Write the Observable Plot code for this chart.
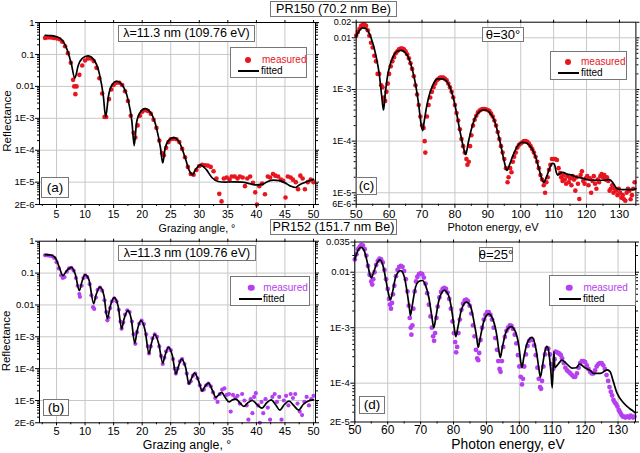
<!DOCTYPE html>
<html><head><meta charset="utf-8">
<script src="https://cdn.jsdelivr.net/npm/d3@7"></script>
<script src="https://cdn.jsdelivr.net/npm/@observablehq/plot@0.6"></script>
<style>
body{margin:0;background:#fff;font-family:"Liberation Sans",Arial,sans-serif;}
#wrap{position:relative;width:640px;height:453px;overflow:hidden;background:#fff;}
.panel{position:absolute;}
.panel svg{background:transparent !important;overflow:visible;}
.box{position:absolute;border:1px solid #777;background:#fff;box-sizing:border-box;white-space:nowrap;color:#000;line-height:1;display:flex;align-items:center;justify-content:center;}
.lbl{position:absolute;white-space:nowrap;color:#000;transform:translate(-50%,-50%);line-height:1;}
.leg{position:absolute;border:1px solid #777;background:#fff;box-sizing:border-box;}
.leg span{position:absolute;font-size:10px;line-height:1;white-space:nowrap;transform:translateY(-50%);}
.leg i{position:absolute;border-radius:50%;transform:translate(-50%,-50%);}
.leg b{position:absolute;height:2px;background:#000;transform:translateY(-50%);}
</style></head>
<body><div id="wrap"></div>
<script>
// ---------- data ----------
const abXTicks = [5,10,15,20,25,30,35,40,45,50];
const abXMinor = [2.5,7.5,12.5,17.5,22.5,27.5,32.5,37.5,42.5,47.5];
const cdXTicks = [50,60,70,80,90,100,110,120,130];
const cdXMinor = [55,65,75,85,95,105,115,125,135];
const abYTicks = [1,0.1,0.01,1e-3,1e-4,1e-5,2e-6];
const abYTickLabels = ["1","0.1","0.01","1E-3","1E-4","1E-5","2E-6"];
const cYTicks = [0.02,0.01,1e-3,1e-4,1e-5,6e-6];
const cYTickLabels = ["0.02","0.01","1E-3","1E-4","1E-5","6E-6"];
const dYTicks = [0.035,0.01,1e-3,1e-4,2e-5];
const dYTickLabels = ["0.035","0.01","1E-3","1E-4","2E-5"];

// (a) PR150, angle scan
const aFitted = [[3,.40],[4,.39],[5,.36],[6,.28],[7,.12],[7.6,.05],[8.2,.018],[8.8,.045],[9.5,.075],[10.5,.09],[11.5,.07],[12.5,.025],[13.2,.005],[13.6,.0011],[14.1,.005],[14.7,.011],[15.5,.0145],[16.5,.011],[17.5,.004],[18.2,.0008],[18.6,.00014],[19.0,.0007],[19.6,.0015],[20.5,.002],[21.5,.0015],[22.5,.0005],[23.2,.00012],[23.6,.00004],[24.0,.00011],[24.6,.0002],[25.5,.00025],[26.5,.00018],[27.5,.00006],[28.3,.000022],[28.8,.000017],[29.3,.000024],[30.2,.000034],[31.2,.000025],[32.2,.000014],[33.3,.0000105],[34.5,.00001],[36,.0000102],[37.5,.00001],[39,.0000088],[40,.0000082],[41,.0000085],[42,.0000105],[43,.0000115],[44,.0000112],[45,.0000095],[46,.0000075],[46.8,.0000068],[47.5,.0000082],[48.5,.0000098],[49.5,.0000115],[50,.0000122]];
const aMeasured = [[3,.33],[3.5,.34],[4,.34],[4.5,.33],[5,.32],[5.5,.30],[6,.25],[6.5,.18],[7,.11],[7.5,.055],[7.9,.016],[8.1,.010],[8.3,.0057],[8.5,.010],[9,.023],[9.5,.045],[10,.065],[10.5,.075],[11,.075],[11.5,.062],[12,.038],[12.5,.018],[13,.006],[13.4,.0011],[13.7,.0011],[14.2,.004],[14.6,.008],[15,.011],[15.5,.013],[16,.013],[16.5,.011],[17,.007],[17.5,.0035],[18,.0012],[18.5,.00035],[18.8,.00025],[19.2,.0006],[19.6,.0012],[20,.0016],[20.5,.0018],[21,.0017],[21.5,.0014],[22,.0009],[22.5,.0005],[23,.0002],[23.5,.00008],[23.8,.00007],[24.2,.00012],[24.6,.00018],[25,.00022],[25.5,.00023],[26,.00022],[26.5,.00018],[27,.00011],[27.5,.00006],[28,.00003],[28.5,.000018],[29,.000017],[29.5,.000024],[30,.000032],[30.5,.000035],[31,.000034],[31.5,.000033],[32,.00003],[32.5,.000022],[33,.000013],[33.5,.0000043],[33.9,.0000025],[34.3,.000013],[34.8,.000014],[35.3,.000012],[35.7,.000015],[36.2,.000015],[36.7,.000013],[37.1,.000015],[37.6,.000014],[38,.0000075],[38.4,.000013],[38.9,.000015],[39.4,.0000095],[39.8,.0000048],[40.1,.000002],[40.5,.0000075],[41,.000009],[41.5,.0000042],[42,.000015],[42.4,.000014],[42.9,.000018],[43.3,.000016],[43.8,.000015],[44.3,.000012],[44.7,.000011],[45.1,.0000033],[45.5,.000015],[46,.000014],[46.4,.000012],[46.9,.00001],[47.3,.000006],[47.7,.000016],[48.1,.000013],[48.5,.000006],[49,.00001],[49.5,.000012],[50,.00001]];

// (b) PR152, angle scan
const bFitted = [[3,.38],[4,.37],[4.8,.30],[5.5,.15],[6.1,.083],[6.8,.12],[7.6,.15],[8.3,.09],[9,.028],[9.4,.05],[10,.09],[10.7,.06],[11.5,.011],[11.9,.02],[12.6,.036],[13.3,.02],[13.9,.0037],[14.4,.009],[15.1,.017],[15.8,.009],[16.4,.0018],[16.8,.0035],[17.5,.0066],[18.1,.0035],[18.7,.00063],[19.1,.0015],[19.8,.0032],[20.5,.0016],[21.2,.0003],[21.6,.0006],[22.2,.0012],[22.9,.0006],[23.6,.00015],[24,.00026],[24.6,.00047],[25.3,.00025],[25.9,.000069],[26.3,.00011],[26.9,.0002],[27.6,.00011],[28.2,.000033],[28.6,.000048],[29.2,.000072],[29.9,.00004],[30.5,.00002],[30.9,.000026],[31.6,.000035],[32.3,.000021],[32.9,.0000126],[33.4,.000015],[33.9,.000018],[34.6,.000012],[35.2,.000009],[35.8,.0000105],[36.4,.000011],[37.1,.0000085],[37.8,.0000065],[38.5,.0000085],[39.3,.00001],[40.1,.0000075],[41,.0000058],[41.8,.0000085],[42.6,.0000105],[43.4,.0000072],[44.1,.000005],[44.9,.0000075],[45.7,.0000095],[46.6,.0000068],[47.4,.000005],[48.2,.0000075],[49,.0000095],[50,.0000105]];
const bMeasured = [[3,.36],[3.4,.36],[3.8,.35],[4.2,.34],[4.6,.30],[5,.22],[5.4,.14],[5.8,.085],[6.1,.07],[6.4,.075],[6.8,.11],[7.2,.14],[7.6,.145],[8,.12],[8.4,.07],[8.7,.04],[9,.022],[9.1,.018],[9.4,.04],[9.7,.07],[10,.085],[10.4,.075],[10.8,.045],[11.1,.02],[11.4,.0085],[11.6,.0075],[11.9,.017],[12.2,.03],[12.6,.035],[13,.028],[13.4,.014],[13.7,.006],[13.9,.0033],[14.1,.004],[14.4,.008],[14.7,.013],[15.1,.016],[15.5,.013],[15.9,.007],[16.2,.003],[16.4,.0018],[16.7,.0028],[17,.005],[17.4,.0068],[17.8,.006],[18.2,.003],[18.5,.0012],[18.8,.0006],[19.1,.0014],[19.5,.0026],[19.9,.0032],[20.3,.0025],[20.7,.0012],[21,.0005],[21.2,.0003],[21.5,.0005],[21.8,.0009],[22.2,.0012],[22.6,.001],[23,.0005],[23.3,.00025],[23.6,.00014],[23.9,.00022],[24.2,.00035],[24.6,.00045],[25,.00038],[25.4,.0002],[25.7,.0001],[25.9,.00007],[26.2,.0001],[26.6,.00017],[27,.0002],[27.4,.00014],[27.8,.00007],[28.2,.000035],[28.5,.00004],[28.9,.00006],[29.3,.00007],[29.7,.00005],[30.1,.00003],[30.5,.000021],[30.8,.000022],[31.2,.00003],[31.6,.000034],[32,.000028],[32.4,.000018],[32.8,.000012],[33.2,.000009],[33.6,.000016],[34,.000022],[34.4,.000024],[34.8,.000015],[35.2,.000016],[35.5,.0000045],[35.9,.000015],[36.3,.000012],[36.7,.000014],[37.1,.000008],[37.5,.000016],[37.9,.00001],[38.3,.000007],[38.6,.0000025],[39,.000011],[39.3,.000004],[39.6,.000013],[39.9,.000017],[40.3,.000007],[40.6,.000002],[40.9,.000009],[41.2,.000004],[41.6,.000011],[42,.000006],[42.4,.0000025],[42.8,.000013],[43.2,.000016],[43.6,.000009],[44,.000013],[44.4,.0000025],[44.8,.00001],[45.2,.000014],[45.6,.000007],[46,.000016],[46.4,.000012],[46.8,.000016],[47.2,.000008],[47.6,.0000045],[48,.0000035],[48.4,.000009],[48.8,.000013],[49.2,.000007],[49.6,.000011],[50,.000014]];

// (c) PR150, energy scan
const cFitted = [[50,.0105],[51,.014],[52,.0155],[53,.015],[54,.012],[55,.008],[56,.0045],[57,.002],[57.8,.0007],[58.3,.0004],[58.8,.0008],[59.5,.0018],[60.5,.0033],[61.5,.0047],[62.5,.0055],[63.6,.0057],[64.8,.0052],[66,.004],[67,.0025],[68,.0013],[69,.0005],[69.7,.00022],[70.2,.00016],[70.7,.00025],[71.5,.0005],[72.5,.0009],[73.5,.0013],[74.8,.0016],[76,.0016],[77.2,.0015],[78.5,.0011],[79.5,.0007],[80.5,.00035],[81.5,.00016],[82.5,.00008],[83.3,.000055],[84,.00009],[85,.00017],[86,.00027],[87,.00035],[88.5,.0004],[89.5,.0004],[90.5,.00036],[92,.00025],[93,.00015],[94,.00008],[95,.00004],[95.8,.000027],[96.6,.000035],[97.5,.00005],[98.5,.00007],[99.5,.000088],[100.5,.000095],[101.5,.000093],[102.5,.000085],[103.5,.00007],[104.5,.00005],[105.5,.00003],[106.5,.000018],[107,.000016],[107.8,.00002],[108.8,.00003],[109.6,.000037],[110.2,.000036],[110.8,.000025],[111.2,.000022],[112,.000024],[112.8,.000025],[114,.000023],[115.5,.000022],[117.2,.00002],[119,.000019],[121.2,.0000175],[123,.0000175],[125.2,.0000175],[127,.000018],[128.2,.000015],[129.3,.000012],[131,.0000115],[133.9,.0000115],[135,.000012]];
const cMeasured = [[50,.011],[50.5,.013],[51,.015],[51.5,.017],[52,.018],[52.5,.018],[53,.017],[53.5,.014],[54,.011],[54.5,.008],[55,.0065],[55.5,.0045],[56,.0035],[56.5,.002],[57,.002],[57.6,.0012],[58,.0011],[58.4,.0007],[58.8,.0006],[59.2,.0009],[59.6,.0013],[60,.002],[60.5,.0028],[61,.0035],[61.5,.0042],[62,.005],[62.5,.0055],[63,.006],[63.5,.0062],[64,.0062],[64.5,.006],[65,.0055],[65.5,.0048],[66,.004],[66.5,.0032],[67,.0025],[67.5,.0018],[68,.0012],[68.5,.0008],[69,.0005],[69.5,.0003],[70,.0002],[70.5,.00018],[70.8,.0001],[71,.00006],[71.5,.0003],[72,.0005],[72.5,.0007],[73,.0009],[73.5,.0011],[74,.0013],[74.5,.0015],[75,.0016],[75.5,.0017],[76,.0017],[76.5,.0017],[77,.0016],[77.5,.0015],[78,.0013],[78.5,.0011],[79,.0009],[79.5,.0007],[80,.0005],[80.5,.00035],[81,.00025],[81.5,.00017],[82,.00011],[82.5,.00008],[83,.00006],[83.5,.000045],[83.8,.000035],[84.2,.00004],[84.6,.00008],[85,.00013],[85.5,.0002],[86,.00026],[86.5,.00031],[87,.00036],[87.5,.00039],[88,.00041],[88.5,.00042],[89,.00042],[89.5,.00041],[90,.0004],[90.5,.00038],[91,.00034],[91.5,.0003],[92,.00025],[92.5,.0002],[93,.00015],[93.5,.00011],[94,.00008],[94.5,.00006],[95,.000045],[95.5,.00003],[96,.000016],[96.3,.00002],[96.8,.00003],[97.2,.000025],[97.6,.00004],[98,.00005],[98.5,.00006],[99,.000075],[99.5,.000085],[100,.00009],[100.5,.000095],[101,.0001],[101.5,.0001],[102,.000097],[102.5,.00009],[103,.00008],[103.5,.00007],[104,.00006],[104.5,.00005],[105,.00004],[105.5,.00003],[106,.000022],[106.5,.000018],[107,.000014],[107.4,.00001],[107.8,.000016],[108.2,.00002],[108.6,.000028],[109,.000035],[109.5,.000045],[110,.000045],[110.5,.000045],[111,.000043],[111.5,.00003],[112,.000024],[112.3,.00002],[112.7,.000017],[113,.000022],[113.4,.000018],[113.8,.000015],[114.2,.000021],[114.6,.000016],[115,.000019],[115.4,.000014],[115.8,.000021],[116.2,.000018],[116.6,.000011],[117,.00002],[117.4,.000015],[117.8,.0000076],[118.2,.000022],[118.6,.000026],[119,.000017],[119.4,.000015],[119.8,.000019],[120.2,.000021],[120.6,.000014],[121,.000019],[121.4,.00001],[121.8,.000017],[122.2,.000021],[122.6,.000015],[123,.000012],[123.4,.000018],[123.8,.000016],[124.2,.000021],[124.6,.000023],[125,.00002],[125.4,.000022],[125.8,.000018],[126.2,.00002],[126.6,.000017],[127,.000011],[127.4,.000012],[127.8,.000014],[128.2,.00001],[128.6,.000012],[129,.000011],[129.4,.000009],[129.8,.000012],[130.2,.00001],[130.6,.000008],[131,.000009],[131.4,.0000075],[131.8,.000007],[132.2,.00001],[132.6,.000012],[133,.000011],[133.4,.0000075],[133.8,.000009],[134.2,.000012],[134.6,.000016]];

// (d) PR152, energy scan
const dFitted = [[50,.017],[51,.025],[51.9,.028],[52.8,.025],[53.8,.015],[54.5,.0095],[55,.0079],[55.6,.0095],[56.6,.014],[57.6,.0167],[58.6,.013],[59.6,.0065],[60.2,.0042],[60.8,.0032],[61.4,.0042],[62.5,.0085],[63.9,.0107],[65,.0085],[66,.004],[66.5,.0025],[66.9,.00166],[67.4,.0024],[68.5,.0055],[69.4,.0068],[70.5,.0071],[71.5,.0058],[72.5,.0035],[73.4,.0016],[74,.001],[74.6,.0015],[75.6,.0032],[77.2,.0047],[78.5,.0038],[79.5,.002],[80.2,.001],[80.7,.00069],[81.3,.001],[82.4,.0021],[83.9,.0029],[85.2,.0024],[86.3,.0012],[87,.0007],[87.5,.00044],[88.1,.00065],[89.2,.0013],[90.7,.00178],[92,.0014],[93.2,.0007],[93.8,.00038],[94.2,.00029],[94.8,.00043],[96,.00085],[97.5,.00105],[98.8,.00085],[99.9,.00045],[100.4,.00025],[100.8,.00019],[101.3,.00028],[102.5,.00055],[103.9,.00067],[105.1,.0004],[105.9,.00019],[106.4,.000128],[107,.0002],[107.8,.00038],[108.4,.00046],[109,.00035],[109.6,.00016],[110,.000082],[110.5,.00037],[110.8,.00019],[111.5,.00021],[113,.00026],[114.5,.00022],[116,.000187],[117.3,.00019],[118.3,.00022],[120.1,.000187],[121.5,.00017],[122.6,.00015],[124.6,.00015],[126.7,.000174],[127.6,.00016],[128.5,.00011],[129.7,.000066],[131.7,.000044],[133.5,.000035],[134.7,.000031],[135.3,.000029]];
const dMeasured = [[50,.017],[50.5,.021],[51,.026],[51.5,.029],[52,.031],[52.5,.03],[53,.026],[53.5,.02],[54,.013],[54.5,.009],[55,.0068],[55.3,.006],[55.6,.0075],[56,.01],[56.5,.0135],[57,.016],[57.5,.0175],[58,.017],[58.5,.015],[59,.011],[59.5,.0075],[60,.005],[60.4,.0033],[60.7,.0026],[61,.0022],[61.3,.0028],[61.6,.004],[62,.0057],[62.5,.0085],[63,.011],[63.5,.0125],[64,.013],[64.5,.0125],[65,.0105],[65.5,.0075],[66,.0045],[66.4,.0025],[66.7,.0015],[67,.001],[67.2,.00075],[67.5,.0011],[67.8,.0022],[68.2,.0045],[68.6,.0068],[69,.0082],[69.5,.0092],[70,.0095],[70.5,.0092],[71,.008],[71.5,.0062],[72,.0042],[72.5,.0026],[73,.0016],[73.4,.001],[73.8,.0007],[74.1,.00058],[74.4,.0008],[74.8,.0015],[75.2,.0024],[75.7,.0035],[76.2,.0044],[76.7,.005],[77.2,.0052],[77.7,.005],[78.2,.0043],[78.7,.0033],[79.2,.0022],[79.7,.0013],[80.1,.0008],[80.5,.00055],[80.8,.00036],[81.1,.00045],[81.5,.0008],[81.9,.0014],[82.4,.0021],[82.9,.0027],[83.4,.0031],[83.9,.0032],[84.4,.003],[84.9,.0025],[85.4,.0018],[85.9,.0011],[86.4,.0007],[86.8,.0004],[87.2,.00028],[87.5,.00026],[87.8,.00035],[88.2,.0006],[88.7,.001],[89.2,.0014],[89.7,.0017],[90.2,.0019],[90.7,.0019],[91.2,.0017],[91.7,.0014],[92.2,.001],[92.7,.00065],[93.2,.0004],[93.6,.00025],[94,.00018],[94.3,.00016],[94.7,.00025],[95.1,.00045],[95.6,.00068],[96.1,.00088],[96.6,.001],[97.1,.0011],[97.6,.00108],[98.1,.00095],[98.6,.00075],[99.1,.00052],[99.6,.00032],[100,.0002],[100.4,.00013],[100.8,.000095],[101.1,.00012],[101.5,.0002],[102,.00033],[102.5,.00047],[103,.00058],[103.5,.00062],[104,.0006],[104.5,.00048],[105,.00032],[105.5,.00019],[105.9,.00012],[106.3,.000085],[106.6,.000079],[106.9,.00011],[107.3,.0002],[107.8,.00033],[108.3,.00042],[108.8,.00042],[109.3,.00033],[109.8,.00022],[110.3,.00018],[110.7,.00027],[111,.00037],[111.4,.00036],[111.8,.00035],[112.2,.00034],[112.6,.00032],[113,.00028],[113.5,.00023],[114,.00019],[114.5,.00017],[115,.00016],[115.5,.00015],[116,.00014],[116.5,.00013],[117,.00013],[117.5,.00015],[118,.00019],[118.5,.00023],[119,.00025],[119.5,.00025],[120,.00024],[120.5,.00021],[121,.00018],[121.5,.00016],[122,.00015],[122.5,.00015],[123,.00017],[123.5,.0002],[124,.00022],[124.5,.00023],[125,.00023],[125.5,.00021],[126,.00018],[126.5,.00014],[127,.00011],[127.4,.000085],[127.8,.00007],[128.2,.00006],[128.6,.00005],[129,.000045],[129.4,.000042],[129.8,.000038],[130.2,.000033],[130.6,.00003],[131,.000027],[131.4,.000025],[131.8,.000025],[132.2,.000024],[132.6,.000025],[133,.000025],[133.4,.000024],[133.8,.000026],[134.2,.000025],[134.6,.000024],[135,.000025]];

const red = "#e8141e", purple = "#b440f0";

// ---------- drawing ----------
function minorLog(lo, hi){
  const out=[]; for(let e=-7;e<=0;e++) for(let m=2;m<=9;m++){const v=m*Math.pow(10,e); if(v>lo*1.002 && v<hi*0.998) out.push(v);} return out;
}
function makePanel(o){
  const yDom=[o.yDomain[0]*0.998, o.yDomain[1]*1.002];
  const grid = o.yTicks.filter(v => Math.abs(Math.log10(v)-Math.round(Math.log10(v)))<1e-9 && v<o.yDomain[1]*0.999 && v>o.yDomain[0]*1.001);
  const yMinor = minorLog(o.yDomain[0], o.yDomain[1]);
  const yLab = o.yTicks.map((v,i)=>({v, t:o.yLabels[i]}));
  const svg = Plot.plot({
    width:o.width, height:o.height,
    marginLeft:o.ml, marginRight:o.mr, marginTop:o.mt, marginBottom:o.mb,
    style:{background:"transparent", fontFamily:"'Liberation Sans', Arial, sans-serif", fontSize:"10px", overflow:"visible"},
    x:{type:"linear", domain:o.xDomain},
    y:{type:"log", domain:yDom},
    marks:[
      Plot.gridX(o.xTicks, {stroke:"#c8c8c8", strokeOpacity:1}),
      Plot.gridY(grid, {stroke:"#c8c8c8", strokeOpacity:1}),
      Plot.dot(o.meas, {x:d=>d[0], y:d=>d[1], r:o.r, fill:o.color, stroke:null}),
      Plot.line(o.fit, {x:d=>d[0], y:d=>d[1], stroke:"#000", strokeWidth:1.7, curve:"monotone-x"}),
      Plot.frame({stroke:"#000"}),
      Plot.axisX(o.xTicks, {anchor:"bottom", tickSize:o.ts, tickPadding:o.tp, fontSize:o.fx, label:null, tickFormat:d=>String(d)}),
      Plot.axisX(o.xMinor, {anchor:"bottom", tickSize:2, tickFormat:()=>"", label:null}),
      Plot.axisX(o.xTicks, {anchor:"top", tickSize:3, tickFormat:()=>"", label:null}),
      Plot.axisY(o.yTicks, {anchor:"left", tickSize:4, tickFormat:()=>"", label:null}),
      Plot.text(yLab, {y:"v", text:"t", frameAnchor:"left", dx:-5, textAnchor:"end", fontSize:o.fy, fill:"#000"}),
      Plot.axisY(yMinor, {anchor:"left", tickSize:2, tickFormat:()=>"", label:null}),
      Plot.axisY(o.yTicks, {anchor:"right", tickSize:3, tickFormat:()=>"", label:null}),
      Plot.axisY(yMinor, {anchor:"right", tickSize:2, tickFormat:()=>"", label:null})
    ]
  });
  const div=document.createElement("div"); div.className="panel";
  div.style.left=o.left+"px"; div.style.top=o.top+"px";
  div.appendChild(svg); document.getElementById("wrap").appendChild(div);
}

makePanel({left:0, top:0, width:320, height:236, ml:39, mr:5, mt:22, mb:32, xDomain:[2.02,50.35], yDomain:[2e-6,1],
  xTicks:abXTicks, xMinor:abXMinor, yTicks:abYTicks, yLabels:abYTickLabels, meas:aMeasured, fit:aFitted, color:red, r:2.3, fx:10.5, fy:9.5, ts:4, tp:2});
makePanel({left:320, top:0, width:320, height:236, ml:35.7, mr:4.6, mt:21.7, mb:32.2, xDomain:[50,135], yDomain:[6e-6,0.02],
  xTicks:cdXTicks, xMinor:cdXMinor, yTicks:cYTicks, yLabels:cYTickLabels, meas:cMeasured, fit:cFitted, color:red, r:2.3, fx:11.5, fy:9, ts:4, tp:2});
makePanel({left:0, top:220, width:320, height:233, ml:39, mr:5, mt:20.7, mb:30.7, xDomain:[2.02,50.35], yDomain:[2e-6,1],
  xTicks:abXTicks, xMinor:abXMinor, yTicks:abYTicks, yLabels:abYTickLabels, meas:bMeasured, fit:bFitted, color:purple, r:2.1, fx:11, fy:9.5, ts:3, tp:1});
makePanel({left:320, top:220, width:320, height:233, ml:34.3, mr:5, mt:21.5, mb:31.5, xDomain:[50,135.3], yDomain:[2e-5,0.035],
  xTicks:cdXTicks, xMinor:cdXMinor, yTicks:dYTicks, yLabels:dYTickLabels, meas:dMeasured, fit:dFitted, color:purple, r:2.4, fx:12, fy:9.5, ts:3, tp:0});

// ---------- annotations ----------
const wrap=document.getElementById("wrap");
function box(text,x0,y0,x1,y1,fs){const d=document.createElement("div");d.className="box";d.textContent=text;Object.assign(d.style,{left:x0+"px",top:y0+"px",width:(x1-x0)+"px",height:(y1-y0)+"px",fontSize:fs+"px"});wrap.appendChild(d);}
function lbl(text,cx,cy,fs,rot){const d=document.createElement("div");d.className="lbl";d.textContent=text;Object.assign(d.style,{left:cx+"px",top:cy+"px",fontSize:fs+"px"});if(rot)d.style.transform="translate(-50%,-50%) rotate(-90deg)";wrap.appendChild(d);}
function legend(x0,y0,x1,y1,color,mx,my,md,tx,l0,l1,ly,fx){
  const d=document.createElement("div");d.className="leg";Object.assign(d.style,{left:x0+"px",top:y0+"px",width:(x1-x0)+"px",height:(y1-y0)+"px"});
  d.innerHTML=`<i style="left:${mx}px;top:${my}px;width:${md}px;height:${md}px;background:${color}"></i><span style="left:${tx}px;top:${my}px;color:${color}">measured</span><b style="left:${l0}px;width:${l1-l0}px;top:${ly}px"></b><span style="left:${fx}px;top:${ly}px">fitted</span>`;
  wrap.appendChild(d);
}
box("λ=11.3 nm (109.76 eV)",118,25,255,42,12.5);
box("λ=11.3 nm (109.76 eV)",118,245,256,261,12.5);
box("θ=30°",482,27,524,42,13);
box("θ=25°",479,247,513,262,13);
box("(a)",41,177,69,198,13.5);
box("(c)",356,177,377,195,13.5);
box("(b)",43,399,69,416,13.5);
box("(d)",359,396,385,414,13.5);
legend(230,47,307,78,red,16.7,11.7,6,31,6.7,27.7,22.7,30);
legend(550,51,627,80,red,17.3,10,6,30,6.7,28.3,21.3,30);
legend(230,276,310,306,purple,20,10.7,6.5,32.3,8.3,31,21.7,32);
legend(549,275,636,306,purple,19,11.7,6.5,33.4,9,31.4,22.7,33);
lbl("Reflectance",7,121,11.7,true);
lbl("Reflectance",7,341,11.5,true);
lbl("Grazing angle, °",197,228,10.7);
lbl("Grazing angle, °",187,445,12.3);
lbl("Photon energy, eV",493,228.3,11.1);
lbl("Photon energy, eV",508,445,13.8);
box("PR150 (70.2 nm Be)",270,1,397,17,12.6);
box("PR152 (151.7 nm Be)",270,219,397,235,12.6);
</script>
</body></html>
